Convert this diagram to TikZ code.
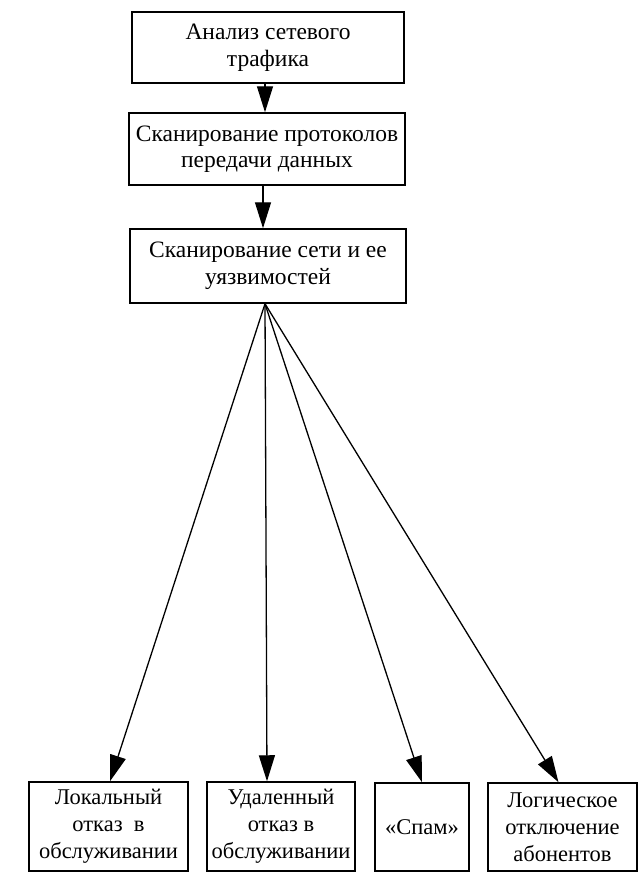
\documentclass[tikz,border=0pt]{standalone}
\usepackage{fontspec}
\setmainfont{Liberation Serif}
\usetikzlibrary{arrows.meta}
\begin{document}
\begin{tikzpicture}[x=1pt,y=-1pt,
  box/.style={draw,line width=1.5pt,align=center,inner sep=0pt,font=\fontsize{22.5}{27}\selectfont},
  bigbox/.style={box,font=\fontsize{23.5}{26.5}\selectfont},
  arr/.style={line width=1.3pt,-{Triangle[length=26pt,width=16pt]}}]
\useasboundingbox (0,0) rectangle (638,873);
\node[bigbox,minimum width=272pt,minimum height=71pt] (a) at (268,47.5) {Анализ сетевого\\трафика};
\node[bigbox,minimum width=276pt,minimum height=72pt] (b) at (267,149) {Сканирование протоколов\\передачи данных};
\node[bigbox,minimum width=276pt,minimum height=74pt] (c) at (268,266) {Сканирование сети и ее\\уязвимостей};
\node[box,minimum width=159pt,minimum height=89pt] (l) at (108.5,826.5) {Локальный\\отказ\ \ в\\обслуживании};
\node[box,minimum width=148pt,minimum height=89pt] (u) at (281,826.5) {Удаленный\\отказ в\\обслуживании};
\node[box,minimum width=94pt,minimum height=88pt] (s) at (422,827) {«Спам»};
\node[box,minimum width=149pt,minimum height=88pt] (g) at (562.5,827) {Логическое\\отключение\\абонентов};
\draw[arr] ([xshift=-3pt]a.south) -- ([xshift=-3pt]a.south |- b.north);
\draw[arr] ([xshift=-4pt]b.south) -- ([xshift=-4pt]b.south |- c.north);
\coordinate (f) at ([xshift=-3pt]c.south);
\draw[arr] (f) -- ([xshift=1.5pt]l.north);
\draw[arr] (f) -- ([xshift=-14pt]u.north);
\draw[arr] (f) -- (s.north);
\draw[arr] (f) -- ([xshift=-4pt]g.north);
\end{tikzpicture}
\end{document}
